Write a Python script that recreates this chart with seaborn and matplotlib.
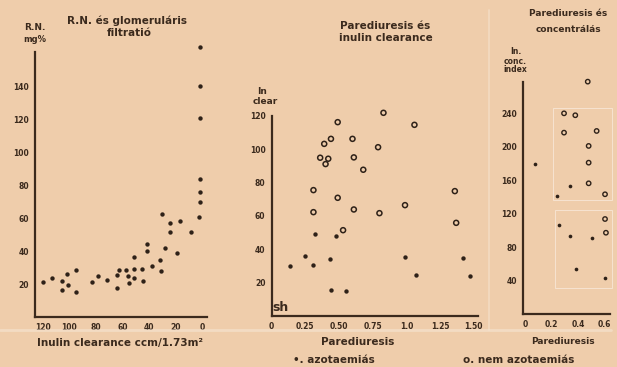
import numpy as np
import pandas as pd
import seaborn as sns
import matplotlib.pyplot as plt
from matplotlib.lines import Line2D
from matplotlib.patches import Rectangle

# panel 1: R.N. vs inulin clearance
p1_clearance = [120, 113, 105.5, 105.5, 102, 101, 95.4, 95.4, 82.8, 78.8, 72, 64.4, 64.4,
                62.7, 57.6, 55.6, 55.1, 51.1, 51.1, 51.1, 45, 44.3, 41.3, 41.3, 38, 31.7,
                31, 30.4, 28.2, 24.2, 24.2, 18.6, 16.6, 8.5, 2, 1.5, 1.5, 1.5, 1.5, 1.5, 1.5]
p1_rn = [21.4, 23.8, 21.8, 16.2, 26.3, 19.4, 28.7, 15.3, 21.4, 24.7, 22.6, 25.3, 17.4,
         28.7, 28.7, 24.7, 20.6, 36.4, 29.3, 23.8, 29, 21.7, 44, 40, 30.7, 34.7,
         27.9, 62.2, 42, 57, 51.3, 39, 58.2, 51.5, 60.6, 70, 75.6, 83.6, 120.4, 140, 164]

# panel 2: parediuresis vs inulin clearance
p2_non_x = [0.83, 0.49, 1.06, 0.44, 0.60, 0.39, 0.79, 0.36, 0.42, 0.61, 0.40, 0.68,
            0.31, 0.49, 1.36, 0.31, 0.61, 0.80, 0.99, 1.37, 0.53]
p2_non_y = [121.7, 116.1, 114.5, 106.1, 106.1, 103.1, 101.1, 94.8, 94.2, 95, 91, 87.6,
            75.4, 70.8, 74.8, 62.2, 63.8, 61.6, 66.4, 55.8, 51.4]
p2_azo_x = [0.136, 0.25, 0.32, 0.31, 0.43, 0.48, 0.44, 0.55, 0.99, 1.07, 1.42, 1.47]
p2_azo_y = [30.1, 36.2, 49.4, 30.4, 34.3, 48.2, 15.5, 14.9, 35.2, 24.7, 34.8, 23.9]

# panel 3: parediuresis vs concentration index
p3_non_x = [0.475, 0.294, 0.38, 0.294, 0.543, 0.482, 0.482, 0.482, 0.607, 0.607, 0.614]
p3_non_y = [277.9, 240, 237.7, 216.9, 218.9, 201, 181, 156.3, 143.2, 113.6, 97.2]
p3_azo_x = [0.075, 0.243, 0.34, 0.258, 0.34, 0.508, 0.385, 0.607]
p3_azo_y = [179, 141.1, 153.1, 106.8, 93.3, 90.9, 53.5, 42.7]

p1_ticks = [120, 100, 80, 60, 40, 20, 0]
p1_yticks = [20, 40, 60, 80, 100, 120, 140]
p2_ticks = [0, 0.25, 0.5, 0.75, 1.0, 1.25, 1.5]
p2_ticklabels = ['0', '0.25', '0.50', '0.75', '1.0', '1.25', '1.50']
p2_yticks = [20, 40, 60, 80, 100, 120]
p3_ticks = [0, 0.2, 0.4, 0.6]
p3_ticklabels = ['0', '0.2', '0.4', '0.6']
p3_yticks = [40, 80, 120, 160, 200, 240]

bg = '#efcdab'
ink = '#3b2a1d'
dot = '#2e2118'

sns.set_style('white')
plt.rcParams['font.family'] = ['DejaVu Sans']
plt.rcParams['font.weight'] = 'bold'

W, H = 617, 367
fig = plt.figure(figsize=(W / 100, H / 100), dpi=100, facecolor=bg)


def rect(left, top, right, bottom):
    return [left / W, 1 - bottom / H, (right - left) / W, (bottom - top) / H]


def ftext(px, py, s, size=7.5, **kw):
    fig.text(px / W, 1 - py / H, s, ha='center', va='center', fontsize=size,
             color=ink, fontweight='bold', **kw)


def style(ax, ytop):
    ax.set_facecolor('none')
    sns.despine(ax=ax)
    for s in ['left', 'bottom']:
        ax.spines[s].set_color(ink)
        ax.spines[s].set_linewidth(1.6)
    ax.spines['left'].set_bounds(0, ytop)
    ax.tick_params(colors=ink, labelsize=5.5, length=3, width=1, pad=1.5, direction='out')
    ax.set_xlabel('')
    ax.set_ylabel('')


def filled(ax, x, y, s=10):
    sns.scatterplot(x=x, y=y, ax=ax, color=dot, s=s, linewidth=0)


def hollow(ax, x, y, s=13, lw=1.1):
    sns.scatterplot(x=x, y=y, ax=ax, facecolor='none', edgecolor=dot, s=s, linewidth=lw)


# panel 1
ax1 = fig.add_axes(rect(35, 40, 207, 317))
filled(ax1, p1_clearance, p1_rn)
ax1.set_xlim(126, -3.8)
ax1.set_ylim(0, 168)
ax1.set_xticks(p1_ticks)
ax1.set_yticks(p1_yticks)
style(ax1, 161)

# panel 2
ax2 = fig.add_axes(rect(271.7, 107.3, 478, 316))
hollow(ax2, p2_non_x, p2_non_y)
filled(ax2, p2_azo_x, p2_azo_y)
ax2.set_xlim(0, 1.532)
ax2.set_ylim(0, 125)
ax2.set_xticks(p2_ticks)
ax2.set_xticklabels(p2_ticklabels)
ax2.set_yticks(p2_yticks)
style(ax2, 120)
ax2.text(0.005, 1, 'sh', fontsize=9, fontweight='bold', color=ink, va='bottom', ha='left')

# panel 3
ax3 = fig.add_axes(rect(523.3, 75.7, 610, 314))
hollow(ax3, p3_non_x, p3_non_y, s=10, lw=1.0)
filled(ax3, p3_azo_x, p3_azo_y, s=7)
ax3.set_xlim(-0.017, 0.645)
ax3.set_ylim(0, 285)
ax3.set_xticks(p3_ticks)
ax3.set_xticklabels(p3_ticklabels)
ax3.set_yticks(p3_yticks)
style(ax3, 278)
for (x0, y0, x1, y1) in [(553, 108, 612, 200), (555, 210, 612, 288)]:
    fig.add_artist(Rectangle((x0 / W, 1 - y1 / H), (x1 - x0) / W, (y1 - y0) / H,
                             transform=fig.transFigure, fill=False, edgecolor='white',
                             linewidth=0.7, alpha=0.45))

# scan artefacts
fig.add_artist(Line2D([0, 0.99], [1 - 330 / H] * 2, transform=fig.transFigure,
                      color='#f6e6d4', linewidth=2.0, alpha=0.6))
fig.add_artist(Line2D([489 / W] * 2, [1 - 330 / H, 1 - 10 / H], transform=fig.transFigure,
                      color='#f6e6d4', linewidth=1.3, alpha=0.5))

# titles
ftext(127, 21, 'R.N. és glomeruláris')
ftext(129, 33, 'filtratió')
ftext(385, 26, 'Parediuresis és')
ftext(386, 38, 'inulin clearance')
ftext(568, 14, 'Parediuresis és', size=6.5)
ftext(568, 29, 'concentrálás', size=6.5)

# axis labels
ftext(35, 27, 'R.N.', size=6.5)
ftext(35, 40, 'mg%', size=6)
ftext(262, 92, 'In', size=6.5)
ftext(265, 101, 'clear', size=6.5)
ftext(516, 52, 'In.', size=5.5)
ftext(515, 61, 'conc.', size=5.5)
ftext(515, 69, 'index', size=5.5)

ftext(120, 343, 'Inulin clearance ccm/1.73m²', size=7.5)
ftext(358, 342, 'Parediuresis', size=7.5)
ftext(563, 342, 'Parediuresis', size=6.5)

# legend
ftext(334, 360, '•. azotaemiás', size=7.5)
ftext(519, 360, 'o. nem azotaemiás', size=7.5)

fig.savefig('out.png', dpi=100, facecolor=bg)
